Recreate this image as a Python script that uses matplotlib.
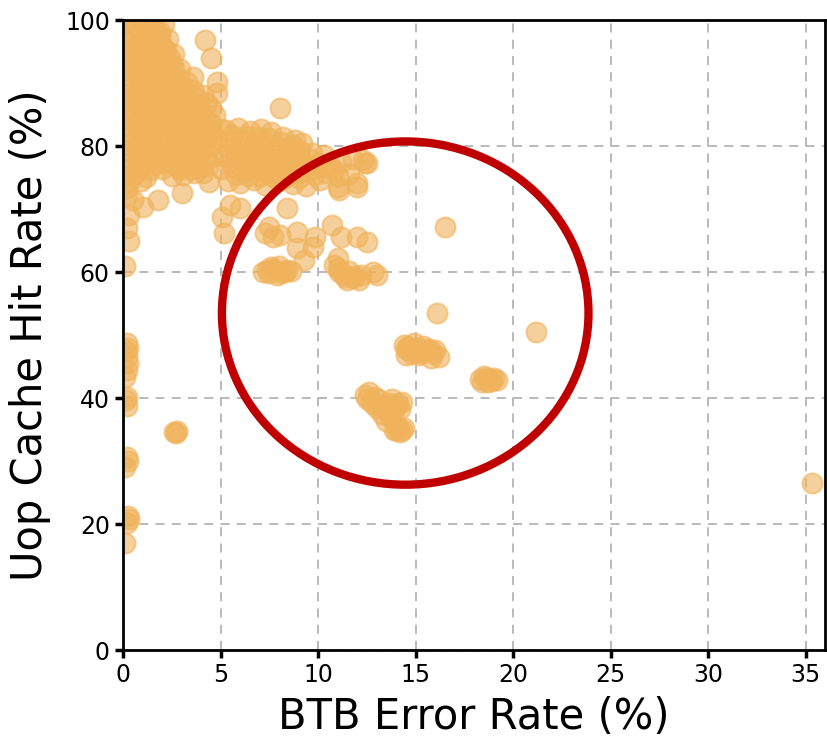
import matplotlib
matplotlib.use("Agg")
import numpy as np
import matplotlib.pyplot as plt
from matplotlib.patches import Ellipse

# dense block top-left (BTB error %, uop cache hit %)
top_left = [
    (0.1, 99.5), (0.6, 99.3), (1.1, 99.6), (1.6, 99.2), (2.1, 99.4),
    (0.3, 97.4), (0.9, 97.6), (1.4, 97.2), (1.9, 97.5), (2.3, 97.0),
    (0.1, 95.3), (0.6, 95.6), (1.2, 95.1), (1.7, 95.5), (2.2, 95.2), (2.6, 94.6),
    (0.4, 93.3), (0.9, 93.6), (1.5, 93.2), (2.0, 93.5), (2.5, 93.0), (2.9, 92.2),
    (0.1, 91.2), (0.7, 91.5), (1.2, 91.0), (1.8, 91.4), (2.3, 91.1), (2.8, 90.6), (3.3, 90.2),
    (0.4, 89.3), (1.0, 89.6), (1.5, 89.2), (2.1, 89.5), (2.6, 89.0), (3.1, 88.6), (3.6, 88.9), (4.1, 88.2),
    (0.1, 87.2), (0.7, 87.5), (1.3, 87.1), (1.8, 87.4), (2.4, 87.0), (2.9, 86.6), (3.4, 87.1), (3.9, 86.5), (4.3, 86.9),
    (0.4, 85.3), (1.0, 85.6), (1.5, 85.1), (2.1, 85.5), (2.6, 85.0), (3.2, 84.6), (3.7, 85.2), (4.2, 84.5), (4.7, 84.9),
    (0.1, 83.2), (0.7, 83.5), (1.3, 83.0), (1.8, 83.4), (2.4, 82.9), (2.9, 83.3), (3.5, 82.7), (4.0, 83.1), (4.5, 82.4), (5.0, 82.8),
    (0.4, 81.3), (1.0, 81.6), (1.5, 81.1), (2.1, 81.4), (2.7, 80.9), (3.2, 81.3), (3.8, 80.7), (4.3, 81.2), (4.8, 80.5),
    (0.1, 79.2), (0.7, 79.5), (1.2, 79.0), (1.8, 79.4), (2.3, 78.8), (2.9, 79.3), (3.4, 78.6), (4.0, 79.1), (4.6, 78.4),
    (0.4, 77.3), (1.0, 77.5), (1.6, 77.0), (2.1, 77.4), (2.7, 76.8), (3.3, 77.2), (3.9, 76.6), (4.4, 77.0),
    (0.1, 75.3), (0.6, 75.6), (1.2, 75.1), (2.5, 75.2), (3.1, 75.4), (3.7, 75.7), (4.4, 74.3),
    (0.2, 73.3), (0.5, 71.5), (1.0, 70.3), (1.8, 71.4), (3.0, 72.5),
    (0.3, 69.0), (0.2, 67.0), (0.3, 65.0), (0.1, 61.0),
    (4.2, 96.8), (4.5, 94.0), (4.8, 90.2), (4.8, 88.4), (3.6, 91.0), (2.6, 92.4), (8.05, 86.0),
]

# second layer that makes the top-left block solid
top_left_fill = [
    (0.4, 98.6), (0.9, 98.4), (1.4, 98.7), (1.9, 98.2),
    (0.3, 96.4), (0.9, 96.2), (1.5, 96.5), (2.0, 96.1),
    (0.2, 94.4), (0.8, 94.6), (1.4, 94.2), (2.0, 94.4), (2.4, 94.0),
    (0.2, 92.3), (0.6, 92.5), (1.2, 92.2), (1.7, 92.6), (2.3, 92.1),
    (0.3, 90.4), (0.9, 90.2), (1.5, 90.5), (2.1, 90.3), (2.6, 90.0), (3.0, 89.6),
    (0.2, 88.3), (0.8, 88.6), (1.4, 88.2), (2.0, 88.5), (2.6, 88.1), (3.2, 87.8), (3.8, 87.6),
    (0.3, 86.4), (0.9, 86.2), (1.5, 86.5), (2.1, 86.2), (2.7, 86.0), (3.3, 85.8), (3.9, 85.6), (4.5, 86.0),
    (0.2, 84.3), (0.8, 84.5), (1.4, 84.1), (2.0, 84.4), (2.7, 84.0), (3.3, 83.8), (3.9, 84.0), (4.5, 83.6),
    (0.3, 82.4), (0.9, 82.2), (1.5, 82.5), (2.1, 82.1), (2.7, 82.3), (3.3, 81.9), (3.9, 82.1), (4.6, 81.8),
    (0.2, 80.3), (0.8, 80.5), (1.4, 80.1), (2.0, 80.4), (2.6, 80.0), (3.2, 80.2), (3.8, 79.8), (4.4, 80.0),
    (0.3, 78.4), (0.9, 78.2), (1.5, 78.5), (2.1, 78.1), (2.7, 78.3), (3.2, 77.9), (3.7, 78.1), (4.3, 78.0),
    (0.2, 76.4), (0.8, 76.5), (1.4, 76.2), (2.0, 76.3), (2.9, 76.2), (3.5, 76.4), (4.1, 75.8),
    (0.3, 74.3), (0.9, 74.5), (0.2, 72.4),
]

# band between 5% and 12.5%
band = [
    (5.3, 82.6), (5.9, 82.9), (6.5, 82.4), (7.1, 82.7), (7.6, 82.2), (8.2, 81.5), (8.8, 81.0), (9.2, 80.5),
    (5.5, 80.6), (6.1, 80.9), (6.7, 80.3), (7.3, 80.7), (7.9, 80.1), (8.5, 79.8), (9.1, 79.3), (9.7, 78.9), (10.3, 78.6),
    (5.2, 78.5), (5.8, 78.8), (6.4, 78.2), (7.0, 78.6), (7.6, 78.0), (8.2, 77.8), (8.8, 77.4), (9.4, 77.0),
    (10.0, 77.3), (10.6, 76.8), (11.2, 77.5), (11.8, 78.0), (12.4, 77.4), (12.3, 77.8),
    (5.0, 76.4), (5.6, 76.7), (6.2, 76.1), (6.8, 76.5), (7.4, 75.9), (8.0, 76.3), (8.6, 75.7), (9.2, 75.9),
    (9.8, 75.4), (10.4, 75.8), (11.0, 75.2), (11.6, 75.6), (12.0, 74.1), (12.0, 73.5), (11.0, 73.5),
    (5.4, 74.5), (6.0, 74.2), (6.7, 74.6), (7.3, 73.9), (8.0, 74.4), (8.7, 74.0), (9.4, 73.7), (10.1, 74.6), (11.1, 73.0),
    (10.8, 76.2), (12.5, 77.3),
    (5.6, 81.7), (6.3, 81.6), (6.9, 81.5), (7.5, 81.3), (8.1, 80.6), (8.7, 80.2),
    (5.4, 79.6), (6.0, 79.7), (6.6, 79.4), (7.2, 79.6), (7.8, 79.1), (8.4, 78.7), (9.0, 78.4), (9.6, 78.0),
    (5.5, 77.5), (6.1, 77.6), (6.7, 77.3), (7.3, 77.2), (7.9, 77.0), (8.5, 76.7), (9.1, 76.5), (9.7, 76.3),
    (5.8, 75.4), (6.4, 75.2), (7.0, 75.3), (7.7, 75.1), (8.3, 75.0), (9.0, 74.9),
]

# middle scattered points 58-71%
middle = [
    (6.0, 70.2), (5.1, 68.7), (8.4, 70.2), (5.2, 66.2), (7.3, 66.2), (7.7, 65.6), (8.05, 65.9),
    (8.9, 66.3), (8.9, 63.8), (9.3, 61.9), (9.85, 65.6), (10.7, 67.5), (11.2, 65.6), (12.0, 65.6),
    (12.5, 64.8), (11.0, 62.2), (5.5, 70.6), (7.5, 67.1), (9.75, 64.0),
    (7.2, 60.0), (7.5, 59.8), (7.8, 60.2), (8.1, 59.9), (8.4, 60.4), (7.6, 60.8), (8.0, 61.0), (8.6, 60.1),
    (7.4, 60.3), (7.9, 59.6), (8.3, 60.0), (7.7, 60.5),
    (10.8, 61.2), (11.1, 60.0), (11.4, 59.2), (11.8, 59.0), (12.1, 58.8), (11.6, 60.2), (12.2, 59.5),
    (11.0, 60.6), (11.3, 59.7), (11.9, 59.4), (11.5, 58.8),
    (12.8, 60.0), (13.0, 59.6),
]

# points on the y axis edge and low left
left_low = [
    (0.2, 48.7), (0.15, 47.5), (0.2, 46.5), (0.2, 44.4), (0.1, 43.3), (0.15, 39.7), (0.2, 38.8),
    (0.25, 48.0), (0.25, 45.5), (0.2, 40.2), (0.25, 30.0),
    (0.2, 30.6), (0.1, 29.0), (0.3, 20.8), (0.2, 20.2), (0.1, 17.0), (0.25, 21.2),
    (2.6, 34.6), (2.75, 34.8), (2.7, 34.4),
]

# clusters inside the circle
circled = [
    (14.4, 48.5), (14.7, 47.6), (14.5, 46.9), (15.1, 48.0), (15.5, 47.6), (15.9, 47.2), (16.2, 46.6),
    (15.8, 46.3), (14.9, 48.8), (15.3, 47.2), (14.6, 48.2), (15.0, 47.4), (15.7, 47.8),
    (14.8, 47.0), (15.2, 46.8), (15.4, 48.2), (16.0, 47.6), (14.5, 47.8),
    (18.3, 43.0), (18.7, 42.6), (19.0, 43.2), (18.5, 43.5), (19.2, 42.8), (18.8, 43.1), (18.4, 42.5),
    (18.6, 43.2), (18.9, 42.7),
    (12.4, 40.5), (12.7, 39.5), (13.0, 38.5), (13.3, 37.5), (13.6, 38.0), (14.0, 38.7), (14.3, 39.4),
    (13.8, 39.8), (12.6, 41.0), (13.9, 35.0), (14.2, 34.6), (14.4, 35.3), (13.5, 36.3), (13.1, 39.9),
    (12.9, 40.2), (13.4, 39.0), (14.1, 39.2), (13.7, 37.0), (14.1, 35.2), (12.5, 39.8),
    (12.8, 39.0), (13.2, 38.8), (13.6, 39.2), (14.2, 38.2), (13.9, 38.0), (14.0, 34.9), (14.3, 35.0),
    (16.5, 67.1), (16.1, 53.5), (21.2, 50.5),
]

outliers = [(35.35, 26.5)]

# highlight ellipse (center x, center y, width, height)
highlight = (14.47, 53.5, 18.8, 54.5)

points = np.array(top_left + top_left_fill + band + middle + left_low + circled + outliers)

fig = plt.figure(figsize=(8.28, 7.48), dpi=100)
ax = fig.add_axes([0.1486, 0.131, 0.8478, 0.842])

ax.scatter(points[:, 0], points[:, 1], s=210, color="#f0b25a", alpha=0.6,
           linewidths=1.4, zorder=2)

ax.add_patch(Ellipse((highlight[0], highlight[1]), highlight[2], highlight[3],
                     fill=False, edgecolor="#c00000", linewidth=6, zorder=3))

ax.set_xlim(0, 36)
ax.set_ylim(0, 100)
ax.set_xticks(range(0, 36, 5))
ax.set_yticks(range(0, 101, 20))

ax.grid(True, linestyle=(0, (5, 4)), color="#b4b4b4", linewidth=1.3, zorder=0)
ax.set_axisbelow(True)

for sp in ax.spines.values():
    sp.set_linewidth(2)

ax.tick_params(labelsize=17, width=2.5, length=6)

ax.set_xlabel("BTB Error Rate (%)", fontsize=30, labelpad=6)
ax.set_ylabel("Uop Cache Hit Rate (%)", fontsize=30, labelpad=10)

fig.savefig("out.png", dpi=100)
